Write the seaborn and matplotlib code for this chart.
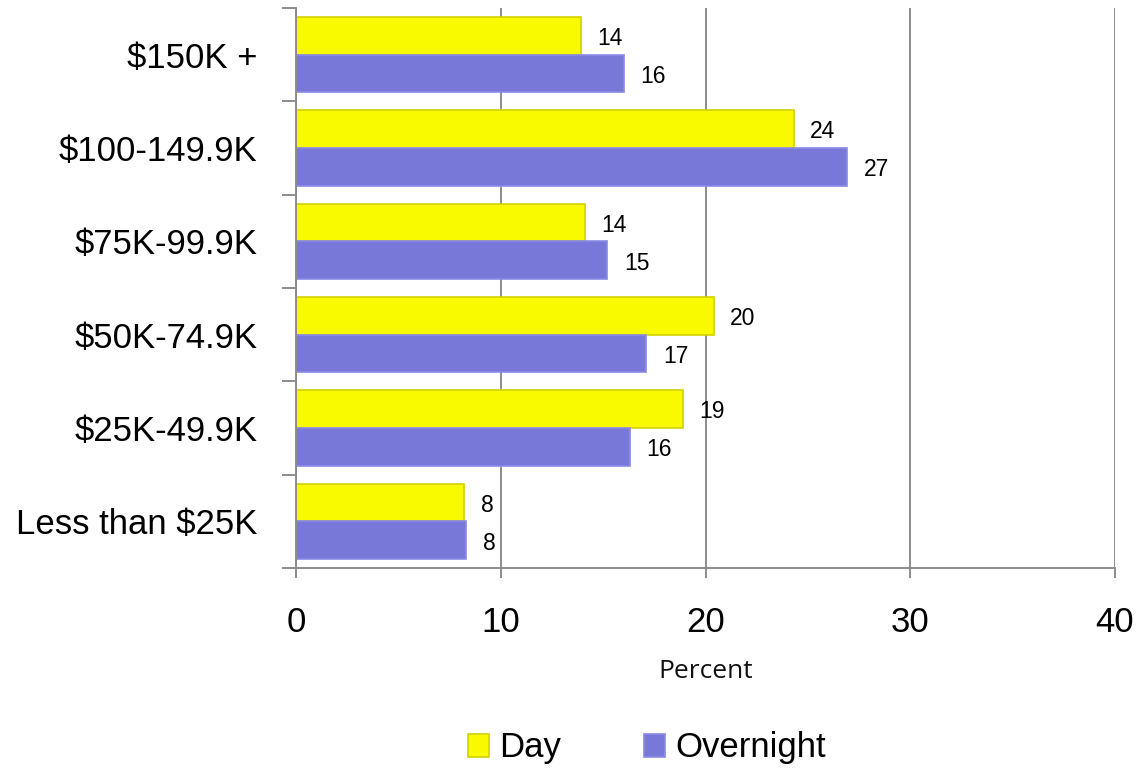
import pandas as pd
import matplotlib
matplotlib.use('Agg')
import matplotlib.pyplot as plt
from matplotlib.ticker import MultipleLocator, FixedLocator
import seaborn as sns

categories = ['$150K +', '$100-149.9K', '$75K-99.9K',
              '$50K-74.9K', '$25K-49.9K', 'Less than $25K']
day = [13.9, 24.3, 14.1, 20.4, 18.9, 8.2]
overnight = [16.0, 26.9, 15.2, 17.1, 16.3, 8.3]
series = ['Day', 'Overnight']
colors = ['#F9F900', '#7878D8']
edges = ['#D2D200', '#8A8AE6']

df = pd.DataFrame({
    'Income': categories * 2,
    'Percent': day + overnight,
    'Period': [series[0]] * len(day) + [series[1]] * len(overnight),
})

sns.set_style('white')
plt.rcParams['font.family'] = ['Liberation Sans', 'DejaVu Sans']
plt.rcParams['text.color'] = 'black'
plt.rcParams['axes.labelcolor'] = 'black'

fig = plt.figure(figsize=(11.4, 7.72), dpi=100)
ax = fig.add_axes([296 / 1140, 1 - 568 / 772, (1115 - 296) / 1140, 560 / 772])

sns.barplot(data=df, x='Percent', y='Income', hue='Period', order=categories,
            hue_order=series, palette=colors, saturation=1, orient='h',
            width=0.81, legend=False, ax=ax)

for cont, ec in zip(ax.containers, edges):
    for bar in cont:
        bar.set_edgecolor(ec)
        bar.set_linewidth(1.2)
    labels = ax.bar_label(cont, fmt='%.0f', padding=12, fontsize=16.5, color='black')
    # labels sit a touch below the bar centre in the original
    for t in labels:
        t.xyann = (t.xyann[0], -2)

ax.set_xlim(0, 40)
ax.set_ylim(len(categories) - 0.5, -0.5)
ax.xaxis.set_major_locator(MultipleLocator(10))
ax.grid(axis='x', color='#8C8C8C', linewidth=1.4)
ax.set_axisbelow(True)
for side in ['top', 'right']:
    ax.spines[side].set_visible(False)
for side in ['left', 'bottom']:
    ax.spines[side].set_color('#8C8C8C')
    ax.spines[side].set_linewidth(1.4)

ax.tick_params(axis='x', which='major', length=7, width=1.4, color='#8C8C8C',
               labelsize=25, labelcolor='black', pad=20, bottom=True)
ax.tick_params(axis='y', which='major', length=0, labelsize=25,
               labelcolor='black', pad=28)
ax.yaxis.set_minor_locator(FixedLocator([i - 0.5 for i in range(len(categories) + 1)]))
ax.tick_params(axis='y', which='minor', length=10, width=1.4, color='#8C8C8C', left=True)

ax.set_ylabel('')
ax.set_xlabel('Percent', fontsize=19, family=['Open Sans', 'DejaVu Sans'],
              va='center', color='#111111')
ax.xaxis.set_label_coords(0.5, -(671 - 568) / 560)

handles = [plt.Rectangle((0, 0), 1, 1, facecolor=c, edgecolor=e, linewidth=1.2)
           for c, e in zip(colors, edges)]
fig.legend(handles, series, loc='center', bbox_to_anchor=(647 / 1140, 1 - 748 / 772),
           ncol=2, frameon=False, fontsize=25, handlelength=0.6, handleheight=0.65,
           handletextpad=0.3, columnspacing=2.4, labelcolor='black')

fig.savefig('out.png', dpi=100)
